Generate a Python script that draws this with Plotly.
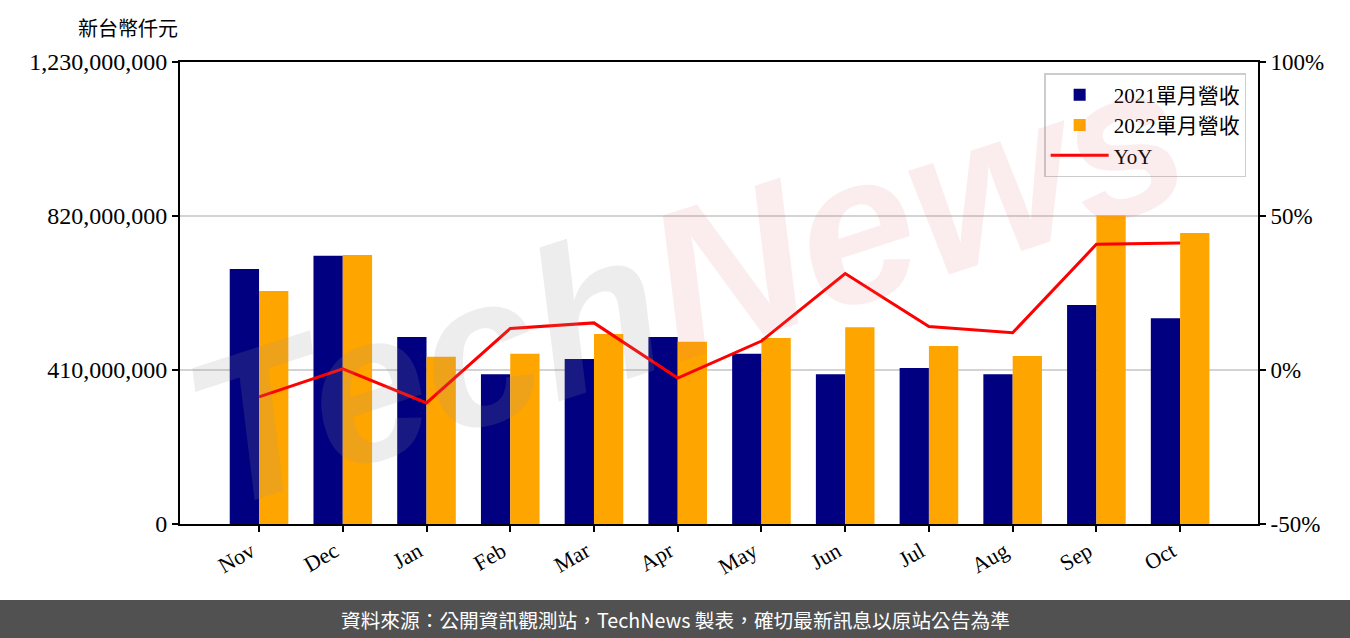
import plotly.graph_objects as go

months = ["Nov", "Dec", "Jan", "Feb", "Mar", "Apr", "May", "Jun", "Jul", "Aug", "Sep", "Oct"]
rev_2021 = [679e6, 714e6, 498e6, 399e6, 439e6, 498e6, 453e6, 399e6, 415e6, 399e6, 583e6, 548e6]
rev_2022 = [620e6, 716e6, 445e6, 453e6, 506e6, 485e6, 495e6, 524e6, 474e6, 447e6, 821e6, 775e6]
yoy = [-8.7, 0.4, -10.7, 13.5, 15.3, -2.6, 9.4, 31.3, 14.1, 12.1, 40.8, 41.2]
left_ticks = [0, 410e6, 820e6, 1230e6]
left_labels = ["0", "410,000,000", "820,000,000", "1,230,000,000"]
right_ticks = [-50, 0, 50, 100]
right_labels = ["-50%", "0%", "50%", "100%"]
names = ["2021單月營收", "2022單月營收", "YoY"]

serif = "Liberation Serif, Noto Sans CJK TC, serif"

fig = go.Figure()
fig.add_trace(go.Bar(x=months, y=rev_2021, name=names[0], marker=dict(color="#000080", line=dict(width=0)),
                     width=0.35, offset=-0.35))
fig.add_trace(go.Bar(x=months, y=rev_2022, name=names[1], marker=dict(color="#FFA500", line=dict(width=0)),
                     width=0.35, offset=0))
fig.add_trace(go.Scatter(x=months, y=yoy, name=names[2], mode="lines", line=dict(color="#FF0000", width=3),
                         yaxis="y2"))

fig.update_layout(
    width=1350, height=638,
    margin=dict(l=180, r=92, t=62, b=114, autoexpand=False),
    plot_bgcolor="white", paper_bgcolor="white",
    font=dict(family=serif, size=22, color="black"),
    barmode="overlay",
    showlegend=True,
    legend=dict(x=0.989, y=0.976, xanchor="right", yanchor="top",
                bgcolor="rgba(255,255,255,0.8)", bordercolor="#cccccc", borderwidth=1.5,
                font=dict(family=serif, size=21), traceorder="normal", tracegroupgap=0,
                itemwidth=58),
    xaxis=dict(type="category", categoryorder="array", categoryarray=months, automargin=False,
               range=[-0.944, 11.93], showline=True, linecolor="black", linewidth=2, mirror=True,
               ticks="outside", ticklen=6, tickwidth=1.5, tickcolor="black", tickangle=-30,
               ticklabelshift=-8, ticklabelstandoff=-2,
               showgrid=False, tickfont=dict(family=serif, size=22)),
    yaxis=dict(range=[0, 1230e6], tickvals=left_ticks, ticktext=left_labels, automargin=False,
               showline=True, linecolor="black", linewidth=2,
               ticks="outside", ticklen=6, tickwidth=1.5, tickcolor="black",
               showgrid=True, gridcolor="#d3d3d3", gridwidth=1.5, zeroline=False,
               tickfont=dict(family=serif, size=24)),
    yaxis2=dict(range=[-50, 100], tickvals=right_ticks, ticktext=right_labels, overlaying="y", side="right",
                automargin=False, showline=True, linecolor="black", linewidth=2,
                ticks="outside", ticklen=6, tickwidth=1.5, tickcolor="black",
                showgrid=False, zeroline=False, tickfont=dict(family=serif, size=23)),
)

# unit label
fig.add_annotation(text="新台幣仟元", xref="paper", yref="paper", x=(128 - 180) / 1078, y=1 + 35 / 462,
                   xanchor="center", yanchor="middle",
                   showarrow=False, font=dict(family="Noto Sans CJK TC", size=20, color="black"))

# watermark
fig.add_annotation(text="<i><b><span style='color:rgba(150,150,150,0.17)'>Tech</span>"
                        "<span style='color:rgba(225,110,110,0.12)'>News</span></b></i>",
                   xref="paper", yref="paper", x=0.47, y=0.52, showarrow=False, textangle=-18,
                   font=dict(family="Liberation Sans", size=210))

# footer bar
fig.add_shape(type="rect", xref="paper", yref="paper", x0=-0.17, x1=1.09, y0=-0.26, y1=-76 / 462,
              fillcolor="#515151", line=dict(width=0), layer="below")
fig.add_annotation(text="資料來源：公開資訊觀測站，TechNews 製表，確切最新訊息以原站公告為準",
                   xref="paper", yref="paper", x=(675 - 180) / 1078, y=-95 / 462,
                   xanchor="center", yanchor="middle", showarrow=False,
                   font=dict(family="Noto Sans CJK TC", size=19.7, color="white"))

fig.write_html("out.html", config={"displayModeBar": False},
               post_script="document.body.style.margin='0';document.body.style.overflow='hidden';")
